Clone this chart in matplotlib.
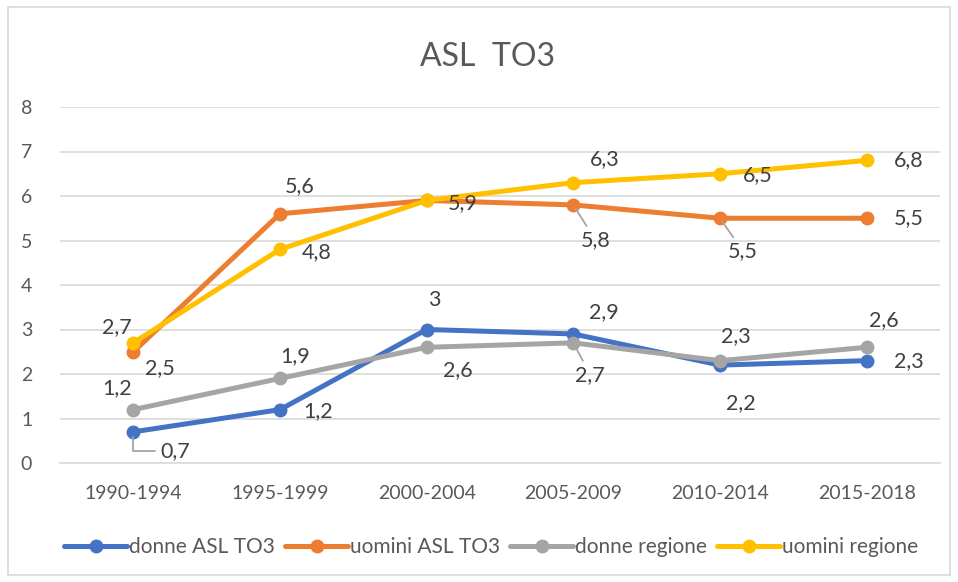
import matplotlib.pyplot as plt
from matplotlib.patches import Rectangle

plt.rcParams['font.family'] = ['Lato', 'DejaVu Sans']

periodi = ['1990-1994', '1995-1999', '2000-2004', '2005-2009', '2010-2014', '2015-2018']
donne_asl = [0.7, 1.2, 3, 2.9, 2.2, 2.3]
uomini_asl = [2.5, 5.6, 5.9, 5.8, 5.5, 5.5]
donne_reg = [1.2, 1.9, 2.6, 2.7, 2.3, 2.6]
uomini_reg = [2.7, 4.8, 5.9, 6.3, 6.5, 6.8]

nomi = ['donne ASL TO3', 'uomini ASL TO3', 'donne regione', 'uomini regione']
colori = ['#4472C4', '#ED7D31', '#A5A5A5', '#FFC000']

# spostamenti delle etichette (pixel) e tipo di linea guida
off_donne_asl = [(42, -19, 'gomito'), (38, -1, None), (8, 29, None), (31, 22, None), (21, -38, None), (42, 0, None)]
off_uomini_asl = [(27, -16, None), (20, 28, None), (36, -3, None), (22, -35, 'dritta'), (23, -33, 'dritta'), (42, 0, None)]
off_donne_reg = [(-16, 22, None), (15, 22, None), (31, -23, None), (17, -32, 'dritta'), (16, 25, None), (17, 27, None)]
off_uomini_reg = [(-16, 16, None), (37, -3, None), None, (31, 24, None), (38, -1, None), (42, 0, None)]

fig = plt.figure(figsize=(9.58, 5.82), dpi=100)
ax = fig.add_axes([60 / 958, 1 - 463 / 582, 880 / 958, (463 - 107) / 582])

serie = [donne_asl, uomini_asl, donne_reg, uomini_reg]
offsets = [off_donne_asl, off_uomini_asl, off_donne_reg, off_uomini_reg]
x = list(range(len(periodi)))

for valori, nome, col in zip(serie, nomi, colori):
    ax.plot(x, valori, color=col, lw=3.6, marker='o', ms=9, label=nome,
            solid_capstyle='round', zorder=3)

for valori, offs in zip(serie, offsets):
    for i, v in enumerate(valori):
        if offs[i] is None:
            continue
        dx, dy, guida = offs[i]
        testo = ('%g' % v).replace('.', ',')
        kw = {}
        if guida == 'dritta':
            kw['arrowprops'] = dict(arrowstyle='-', color='#A5A5A5', lw=1.3,
                                    shrinkA=1, shrinkB=3)
        elif guida == 'gomito':
            kw['arrowprops'] = dict(arrowstyle='-', color='#A5A5A5', lw=1.3,
                                    shrinkA=2, shrinkB=4,
                                    connectionstyle='angle,angleA=0,angleB=90,rad=0')
        ax.annotate(testo, (i, v), xytext=(dx, dy), textcoords='offset pixels',
                    ha='center', va='center', fontsize=15.5, color='#404040',
                    zorder=4, **kw)

ax.set_xlim(-0.5, 5.5)
ax.set_ylim(0, 8)
ax.set_yticks(range(0, 9))
ax.set_xticks(x)
ax.set_xticklabels(periodi)
ax.grid(axis='y', color='#D9D9D9', lw=1.2)
ax.set_axisbelow(True)
for s in ['top', 'right', 'left']:
    ax.spines[s].set_visible(False)
ax.spines['bottom'].set_color('#D9D9D9')
ax.spines['bottom'].set_linewidth(1.2)
ax.tick_params(axis='both', length=0, colors='#595959', labelsize=14)
ax.tick_params(axis='y', pad=20)
ax.tick_params(axis='x', pad=16)

fig.text(487 / 958, 1 - 57 / 582, 'ASL  TO3', ha='center', va='center',
         fontsize=23, color='#595959')

ax.legend(loc='center', bbox_to_anchor=(0.49, (463 - 547) / (463 - 107)),
          ncol=4, frameon=False, fontsize=15, handlelength=3.0,
          handletextpad=0.1, columnspacing=0.5, labelcolor='#595959')

fig.patches.append(Rectangle((8 / 958, 7 / 582), 942 / 958, 568 / 582,
                             transform=fig.transFigure, fill=False,
                             edgecolor='#D9D9D9', lw=1.2))

fig.savefig('out.png', dpi=100)
